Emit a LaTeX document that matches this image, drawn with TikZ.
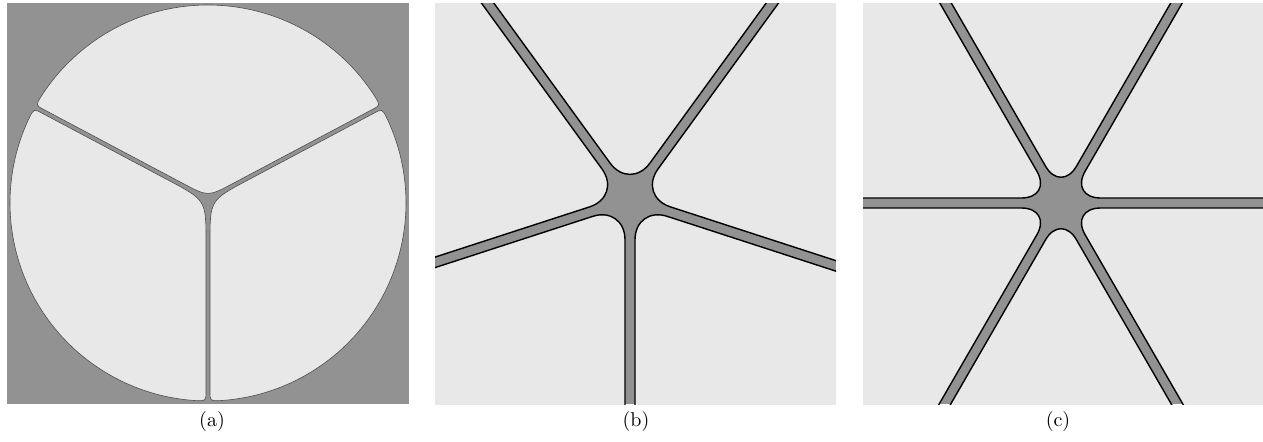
\documentclass[tikz,border=0pt]{standalone}
\usepackage{xcolor}
\usepackage{tikz}
\usetikzlibrary{calc}

\definecolor{wallgrey}{RGB}{146,146,146}
\definecolor{cellgrey}{RGB}{232,232,232}

\begin{document}
\begin{tikzpicture}[x=0.5pt, y=0.5pt,
    wall/.style={fill=wallgrey},
    cell/.style={fill=cellgrey, draw=black!70, line width=0.3pt},
    cellb/.style={fill=cellgrey, draw=black, line width=0.7pt},
    caption/.style={font=\normalsize, anchor=base, inner sep=0pt}
]
    \useasboundingbox (0,0) rectangle (1263,441);

    % Panel (a): three cells in a disc
    \begin{scope}[shift={(208,238)}]
        \fill[wall] (-201,-201) rectangle (201,200);
        % top cell
        \path[cell] (-24.7,19.4) .. controls (0,6.3) .. (24.7,19.4) -- (164.3,93.5)
            .. controls (29.57:198) .. (32.17:198) arc[start angle=32.17, end angle=147.83, radius=198]
            .. controls (150.43:198) .. (-164.3,93.5) -- cycle;
        % left cell
        \path[cell] (-39.1,22.5) -- (-165.3,89.5)
            .. controls (151.58:198) .. (154.47:198) arc[start angle=154.47, end angle=266.53, radius=198]
            .. controls (269.42:198) .. (-2,-188) -- (-2,-39.2)
            .. controls (-2,2.8) .. (-39.1,22.5) -- cycle;
        % right cell
        \path[cell] (39.1,22.5) -- (165.3,89.5)
            .. controls (28.42:198) .. (25.53:198) arc[start angle=25.53, end angle=-86.53, radius=198]
            .. controls (-89.42:198) .. (2,-188) -- (2,-39.2)
            .. controls (2,2.8) .. (39.1,22.5) -- cycle;
    \end{scope}

    % Panel (b): five-fold junction
    \begin{scope}[shift={(630,242)}]
        \clip (-195,-205) rectangle (206,196);
        \fill[wall] (-195,-205) rectangle (206,196);
        \foreach \a in {-90,-18,54,126,198}
            \path[cellb, rounded corners=17pt] ($(\a+36:8.5)+(\a:600)$) -- (\a+36:8.5)
                -- ($(\a+36:8.5)+(\a+72:600)$) -- cycle;
    \end{scope}

    % Panel (c): six-fold junction
    \begin{scope}[shift={(1061,238)}]
        \clip (-198,-201) rectangle (202,200);
        \fill[wall] (-198,-201) rectangle (202,200);
        \foreach \a in {0,60,...,300}
            \path[cellb, rounded corners=15.5pt] ($(\a+30:10)+(\a:600)$) -- (\a+30:10)
                -- ($(\a+30:10)+(\a+60:600)$) -- cycle;
    \end{scope}

    % Captions
    \node[caption] (capa) at (212,15) {(a)};
    \node[caption] (capb) at (636,15) {(b)};
    \node[caption] (capc) at (1058,15) {(c)};
\end{tikzpicture}
\end{document}
